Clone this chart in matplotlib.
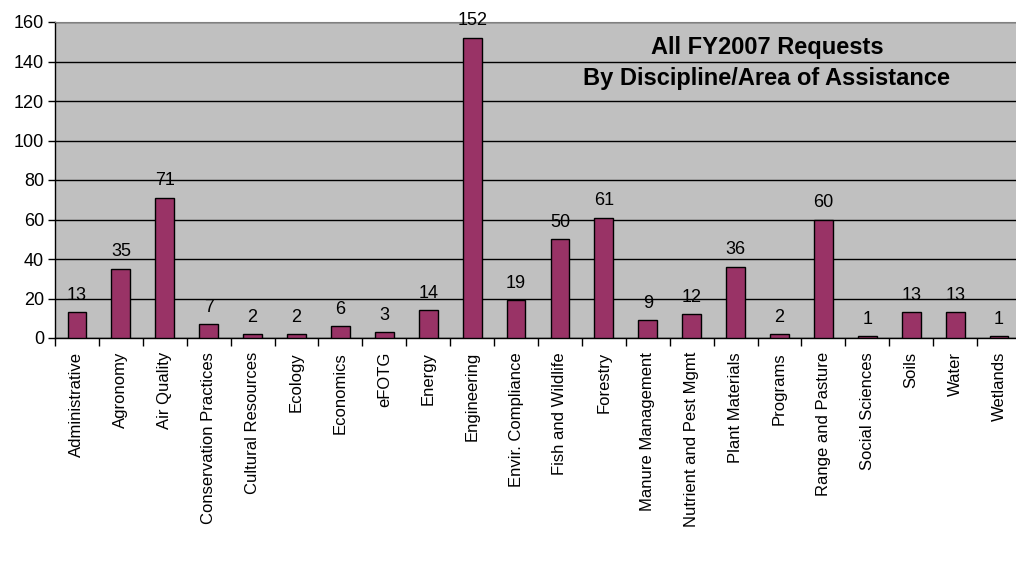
import matplotlib
matplotlib.use('Agg')
import matplotlib.pyplot as plt

categories = ['Administrative', 'Agronomy', 'Air Quality', 'Conservation Practices',
              'Cultural Resources', 'Ecology', 'Economics', 'eFOTG', 'Energy',
              'Engineering', 'Envir. Compliance', 'Fish and Wildlife', 'Forestry',
              'Manure Management', 'Nutrient and Pest Mgmt', 'Plant Materials',
              'Programs', 'Range and Pasture', 'Social Sciences', 'Soils', 'Water',
              'Wetlands']
requests = [13, 35, 71, 7, 2, 2, 6, 3, 14, 152, 19, 50, 61, 9, 12, 36, 2, 60, 1, 13, 13, 1]
yticks = [0, 20, 40, 60, 80, 100, 120, 140, 160]

plt.rcParams['font.family'] = ['Liberation Sans', 'DejaVu Sans']

fig = plt.figure(figsize=(10.16, 5.61), dpi=100)
ax = fig.add_axes([55 / 1016, 223 / 561, 966 / 1016, 316 / 561])
ax.set_facecolor('#c0c0c0')

x = list(range(len(categories)))
ax.bar(x, requests, width=0.43, color='#993366', edgecolor='black', linewidth=1.0, zorder=3)
for xi, v in zip(x, requests):
    ax.annotate(str(v), (xi, v), xytext=(0, 9), textcoords='offset points',
                ha='center', va='baseline', fontsize=13)

ax.set_xlim(-0.5, len(categories) - 0.5)
ax.set_ylim(0, 160)
ax.set_yticks(yticks)
ax.tick_params(axis='y', labelsize=13, length=5, width=1, pad=3)
ax.yaxis.grid(True, color='black', linewidth=1, zorder=0)
ax.set_axisbelow(True)

# category boundaries get the tick marks, labels sit in between
ax.set_xticks([i - 0.5 for i in range(len(categories) + 1)])
ax.set_xticklabels([])
ax.tick_params(axis='x', length=6, width=1)
ax.set_xticks(x, minor=True)
ax.set_xticklabels(categories, minor=True, rotation=90, fontsize=12, va='top')
ax.tick_params(axis='x', which='minor', length=0, pad=10)

for s in ['left', 'bottom']:
    ax.spines[s].set_color('black')
    ax.spines[s].set_linewidth(1)
ax.spines['top'].set_color('#808080')
ax.spines['right'].set_visible(False)

ax.text(0.737, 0.918, 'All FY2007 Requests', transform=ax.transAxes, ha='center',
        va='center', fontsize=17, fontweight='bold')
ax.text(0.737, 0.82, 'By Discipline/Area of Assistance', transform=ax.transAxes,
        ha='center', va='center', fontsize=17, fontweight='bold')

fig.savefig('out.png', dpi=100)
